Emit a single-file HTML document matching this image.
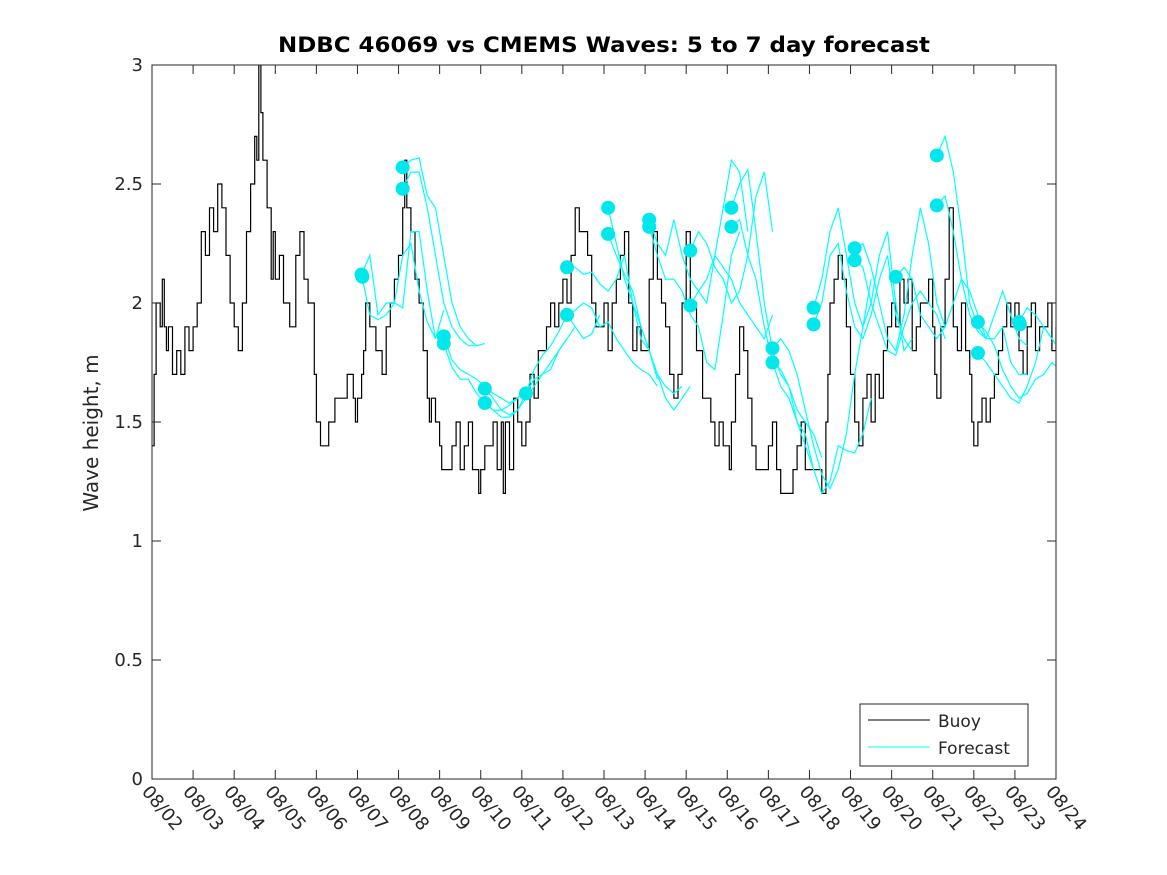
<!DOCTYPE html>
<html><head><meta charset="utf-8"><style>
body{margin:0;background:#fff;}
svg{display:block;font-family:"DejaVu Sans","Liberation Sans",sans-serif;}
</style></head><body>
<svg id="chart" width="1167" height="875" viewBox="0 0 1167 875" xmlns="http://www.w3.org/2000/svg">
<rect width="1167" height="875" fill="#fff"/>
<text x="604" y="52" text-anchor="middle" font-size="21" font-weight="bold" textLength="652" lengthAdjust="spacingAndGlyphs">NDBC 46069 vs CMEMS Waves: 5 to 7 day forecast</text>
<text transform="translate(98,433) rotate(-90)" text-anchor="middle" font-size="20" fill="#262626">Wave height, m</text>
<g id="plot"></g>
<g id="axes"></g>
<g>
<rect x="860" y="704" width="168" height="62" fill="#fff" stroke="#262626" stroke-width="1"/>
<line x1="868" y1="720" x2="930" y2="720" stroke="#000" stroke-width="1"/>
<text x="938" y="727" font-size="17" fill="#262626">Buoy</text>
<line x1="868" y1="747" x2="930" y2="747" stroke="#00ffff" stroke-width="1"/>
<text x="938" y="754" font-size="17" fill="#262626">Forecast</text>
</g>
</svg>
<script>
const xTickLabels=["08/02","08/03","08/04","08/05","08/06","08/07","08/08","08/09","08/10","08/11","08/12","08/13","08/14","08/15","08/16","08/17","08/18","08/19","08/20","08/21","08/22","08/23","08/24"];
const yTicks=[0,0.5,1,1.5,2,2.5,3];
const yTickLabels=["0","0.5","1","1.5","2","2.5","3"];
const buoyTimes=[0,0.05,0.1,0.2,0.25,0.3,0.35,0.4,0.5,0.6,0.7,0.8,0.9,1.0,1.1,1.2,1.3,1.4,1.5,1.6,1.7,1.8,1.9,2.0,2.1,2.2,2.3,2.4,2.5,2.55,2.6,2.65,2.7,2.8,2.9,2.95,3.0,3.1,3.2,3.35,3.5,3.6,3.7,3.8,3.95,4.0,4.1,4.2,4.3,4.45,4.6,4.75,4.9,4.95,5.0,5.1,5.15,5.2,5.3,5.45,5.6,5.7,5.8,5.9,6.0,6.1,6.15,6.2,6.3,6.4,6.5,6.6,6.7,6.75,6.8,6.9,7.0,7.05,7.2,7.3,7.4,7.5,7.6,7.7,7.8,7.95,8.0,8.1,8.2,8.3,8.4,8.5,8.55,8.6,8.7,8.8,8.9,9.0,9.1,9.2,9.3,9.4,9.5,9.6,9.7,9.8,9.9,10.0,10.1,10.2,10.3,10.4,10.5,10.6,10.7,10.8,10.9,11.0,11.1,11.2,11.3,11.4,11.5,11.6,11.7,11.8,11.9,12.0,12.1,12.2,12.3,12.4,12.5,12.6,12.7,12.8,12.9,13.0,13.1,13.25,13.4,13.5,13.6,13.7,13.8,13.9,14.0,14.05,14.1,14.2,14.3,14.4,14.5,14.6,14.7,14.8,15.0,15.1,15.2,15.3,15.5,15.6,15.7,15.8,15.9,16.1,16.3,16.4,16.45,16.5,16.6,16.7,16.8,16.9,17.0,17.1,17.2,17.3,17.4,17.5,17.6,17.7,17.8,17.9,18.0,18.1,18.2,18.3,18.4,18.5,18.6,18.7,18.8,18.9,19.0,19.05,19.1,19.2,19.3,19.35,19.4,19.5,19.6,19.7,19.8,19.9,19.95,20.0,20.1,20.2,20.3,20.4,20.5,20.6,20.7,20.8,20.9,21.0,21.1,21.2,21.3,21.4,21.5,21.6,21.7,21.8,21.9,22.0];
const buoyValues=[1.4,1.7,2.0,1.9,2.1,1.9,1.8,1.9,1.7,1.8,1.7,1.9,1.8,1.9,2.0,2.3,2.2,2.4,2.3,2.5,2.4,2.2,2.0,1.9,1.8,2.0,2.3,2.5,2.7,2.6,3.0,2.8,2.6,2.4,2.1,2.3,2.1,2.2,2.0,1.9,2.2,2.3,2.1,2.0,1.7,1.5,1.4,1.4,1.5,1.6,1.6,1.7,1.6,1.5,1.6,1.7,1.8,2.0,1.9,1.8,1.7,1.9,2.0,2.1,2.2,2.4,2.6,2.4,2.3,2.1,2.0,1.8,1.6,1.5,1.6,1.5,1.4,1.3,1.3,1.4,1.5,1.3,1.4,1.5,1.3,1.2,1.3,1.4,1.4,1.5,1.3,1.5,1.2,1.5,1.3,1.6,1.5,1.4,1.5,1.7,1.6,1.8,1.8,1.9,2.0,1.9,2.0,2.1,2.0,2.2,2.4,2.3,2.3,2.2,2.0,1.9,1.9,2.0,1.8,2.0,2.1,2.2,2.3,2.0,1.8,1.9,1.8,1.8,2.1,2.3,2.1,2.0,1.9,1.7,1.6,1.7,2.0,2.3,2.0,1.8,1.6,1.6,1.5,1.4,1.5,1.4,1.4,1.3,1.5,1.7,1.9,1.8,1.6,1.4,1.3,1.3,1.4,1.5,1.3,1.2,1.2,1.3,1.4,1.5,1.3,1.3,1.2,1.5,1.7,2.0,2.1,2.2,2.1,1.9,1.7,1.5,1.4,1.6,1.7,1.5,1.7,1.6,1.8,1.9,2.0,1.9,2.1,2.0,2.1,1.8,1.9,2.0,2.0,2.1,1.9,1.7,1.6,1.9,2.1,2.1,2.4,1.9,1.8,2.0,1.8,1.7,1.5,1.4,1.5,1.6,1.5,1.6,1.7,1.8,1.9,2.0,1.9,2.0,1.8,1.7,1.9,2.0,1.8,1.9,1.9,2.0,1.8,1.9,1.9,1.9];
const dotTimes=[5.1,5.12,6.1,6.1,7.1,7.1,8.1,8.1,9.1,10.1,10.1,11.1,11.1,12.1,12.1,13.1,13.1,14.1,14.1,15.1,15.1,16.1,16.1,17.1,17.1,18.1,19.1,19.1,20.1,20.1,21.1,21.12];
const dotValues=[2.12,2.11,2.57,2.48,1.86,1.83,1.64,1.58,1.62,2.15,1.95,2.40,2.29,2.35,2.32,2.22,1.99,2.40,2.32,1.81,1.75,1.98,1.91,2.23,2.18,2.11,2.62,2.41,1.92,1.79,1.92,1.91];
const fcStarts=[5.1,5.1,6.1,6.1,7.1,7.1,8.1,8.1,9.1,10.1,10.1,11.1,11.1,12.1,12.1,13.1,13.1,14.1,14.1,15.1,15.1,16.1,16.1,17.1,17.1,18.1,19.1,19.1,20.1,20.1,21.1];
const fcValues=[
[2.12,2.2,1.95,2.0,2.0,1.98,2.3,2.3,2.05,1.85,1.97],
[2.12,1.95,1.93,1.95,2.0,2.2,2.25,2.05,1.92,1.85],
[2.57,2.6,2.61,2.45,2.4,2.2,2.0,1.9,1.85,1.82,1.83],
[2.48,2.55,2.55,2.4,2.2,2.0,1.9,1.85,1.82,1.82],
[1.86,1.76,1.72,1.7,1.68,1.65,1.62,1.6,1.58,1.6,1.65],
[1.83,1.73,1.68,1.68,1.62,1.58,1.55,1.55,1.57,1.6],
[1.64,1.6,1.55,1.53,1.55,1.6,1.65,1.7,1.75,1.8,1.85,1.9],
[1.58,1.55,1.52,1.52,1.55,1.62,1.68,1.7,1.72,1.8,1.85],
[1.62,1.72,1.78,1.82,1.88,1.95,1.9,1.85,1.87,1.95],
[2.15,2.15,2.12,2.13,2.08,2.05,2.1,2.2,2.0,1.85,1.8,1.68],
[1.95,1.97,2.0,1.98,1.9,1.92,1.85,1.8,1.75,1.72,1.7,1.65],
[2.40,2.25,2.1,2.0,1.9,1.8,1.7,1.6,1.55,1.6,1.65],
[2.29,2.2,2.12,2.05,1.9,1.8,1.7,1.65,1.62,1.65],
[2.35,2.25,2.2,2.35,2.2,2.1,2.05,2.0,2.2,2.4,2.6,2.55,2.3],
[2.32,2.2,2.1,2.1,2.05,1.95,1.9,1.75,1.72,1.95,2.2,2.3],
[2.22,2.3,2.25,2.15,2.1,2.0,2.05,2.2,2.45,2.55,2.3],
[1.99,2.05,2.1,2.2,2.15,2.1,2.0,1.95,1.9,1.85,1.95],
[2.40,2.5,2.56,2.3,2.0,1.8,1.7,1.65,1.55,1.5,1.45,1.35],
[2.32,2.35,2.2,2.1,1.9,1.75,1.65,1.6,1.5,1.45,1.3],
[1.81,1.85,1.8,1.7,1.55,1.4,1.28,1.22,1.3,1.45,1.7,1.9,2.1],
[1.75,1.72,1.65,1.5,1.4,1.3,1.2,1.25,1.4,1.38,1.37,1.45,1.6],
[1.98,2.1,2.3,2.4,2.2,2.0,1.9,2.0,2.2,2.3,2.0,1.8,1.85],
[1.91,2.0,2.2,2.25,2.05,1.9,1.85,1.95,2.1,2.2,1.95,1.85,1.8],
[2.23,2.25,2.15,2.0,1.85,1.8,1.95,2.2,2.4,2.25,2.0,1.9],
[2.18,2.15,2.0,1.9,1.8,1.78,1.9,2.0,2.05,2.0,1.95,1.85],
[2.11,2.15,2.1,1.95,1.9,1.85,1.9,2.0,2.1,2.05,1.95,1.85],
[2.62,2.7,2.55,2.3,2.0,1.9,1.85,1.95,2.05,1.95,1.85,1.82],
[2.41,2.45,2.3,2.1,1.95,1.88,1.85,1.85,1.9,1.75,1.7,1.7],
[1.92,1.88,1.82,1.72,1.65,1.6,1.62,1.68,1.7,1.75,1.72,1.68],
[1.79,1.75,1.7,1.65,1.6,1.58,1.65,1.75,1.9,1.85],
[1.92,1.98,1.95,1.9,1.85,1.8,1.75,1.98]
];
const X0=152,X1=1056,Y0=779,Y1=65,XMAX=22,YMAX=3;
const sx=d=>X0+(X1-X0)*d/XMAX;
const sy=v=>Y0-(Y0-Y1)*v/YMAX;
const NS="http://www.w3.org/2000/svg";
const plot=document.getElementById('plot'),axes=document.getElementById('axes');
function mk(tag,attrs,parent){const e=document.createElementNS(NS,tag);for(const k in attrs)e.setAttribute(k,attrs[k]);parent.appendChild(e);return e;}
const defs=mk('defs',{},plot);const cp=mk('clipPath',{id:'clip'},defs);mk('rect',{x:X0,y:Y1,width:X1-X0,height:Y0-Y1},cp);
const pg=mk('g',{'clip-path':'url(#clip)'},plot);
let d='';
for(let i=0;i<buoyTimes.length;i++){
 const x=sx(buoyTimes[i]).toFixed(1),y=sy(buoyValues[i]).toFixed(1);
 if(i===0)d+='M'+x+' '+y;else d+='H'+x+'V'+y;
}
const bl=mk('path',{d:d,fill:'none',stroke:'#000','stroke-width':1.2},pg);


fcValues.forEach((vals,j)=>{
 const pts=vals.map((v,i)=>sx(fcStarts[j]+i*0.2).toFixed(1)+','+sy(v).toFixed(1)).join(' ');
 const pl=mk('polyline',{points:pts,fill:'none',stroke:'#00ffff','stroke-width':1.2},pg);
 
 
});
dotTimes.forEach((t,i)=>{
 const c=mk('circle',{cx:sx(t),cy:sy(dotValues[i]),r:7,fill:'#00e8ec'},pg);
 
 
});
const box=mk('rect',{x:X0,y:Y1,width:X1-X0,height:Y0-Y1,fill:'none',stroke:'#262626','stroke-width':1},axes);


xTickLabels.forEach((lab,i)=>{
 const x=sx(i);
 mk('line',{x1:x,y1:Y0,x2:x,y2:Y0-9,stroke:'#262626'},axes);
 mk('line',{x1:x,y1:Y1,x2:x,y2:Y1+9,stroke:'#262626'},axes);
 const t=mk('text',{x:0,y:0,transform:`translate(${x-11},${Y0+13}) rotate(50)`,'font-size':18,fill:'#262626'},axes);
 t.textContent=lab;
 
 
});
yTicks.forEach((v,i)=>{
 const y=sy(v);
 mk('line',{x1:X0,y1:y,x2:X0+9,y2:y,stroke:'#262626'},axes);
 mk('line',{x1:X1,y1:y,x2:X1-9,y2:y,stroke:'#262626'},axes);
 const t=mk('text',{x:X0-9,y:y+6,'text-anchor':'end','font-size':18,fill:'#262626'},axes);
 t.textContent=yTickLabels[i];
 
 
});
</script>
</body></html>
